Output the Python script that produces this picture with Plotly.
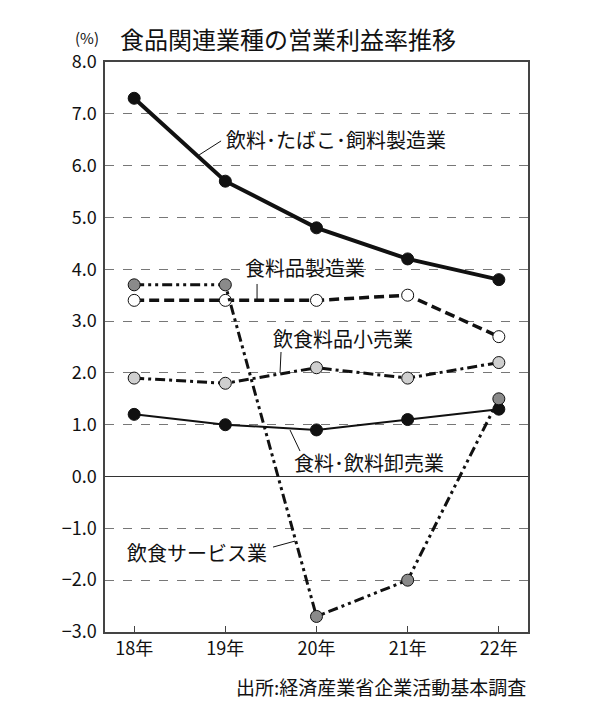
import plotly.graph_objects as go

years = ["18年", "19年", "20年", "21年", "22年"]
beverage_tobacco = [7.3, 5.7, 4.8, 4.2, 3.8]
food_mfg = [3.4, 3.4, 3.4, 3.5, 2.7]
food_retail = [1.9, 1.8, 2.1, 1.9, 2.2]
wholesale = [1.2, 1.0, 0.9, 1.1, 1.3]
food_service = [3.7, 3.7, -2.7, -2.0, 1.5]
y_ticks = [8, 7, 6, 5, 4, 3, 2, 1, 0, -1, -2, -3]
y_ticklabels = ["8.0", "7.0", "6.0", "5.0", "4.0", "3.0", "2.0", "1.0", "0.0", "−1.0", "−2.0", "−3.0"]

FONT = "Noto Sans CJK JP"
xi = list(range(len(years)))

fig = go.Figure()

def add(yv, width, dash, fill, msize=12):
    fig.add_trace(go.Scatter(
        x=xi, y=yv, mode="lines+markers",
        line=dict(color="#111111", width=width, dash=dash),
        marker=dict(size=msize, color=fill, line=dict(color="#111111", width=1)),
        showlegend=False, hoverinfo="skip"))

add(wholesale, 2, "solid", "#111111")
add(food_retail, 3, "10px,4px,3px,4px", "#cfcfcf")
add(food_mfg, 3.5, "10px,5px", "#ffffff")
add(beverage_tobacco, 4, "solid", "#111111")
add(food_service, 3, "10px,4px,3px,4px,3px,4px", "#8a8a8a")

def px2x(px):
    return (px - 134) / 91.25

def px2y(py):
    return (476.5 - py) / 51.8

labels = [
    ("飲料･たばこ･飼料製造業", 224, 140, (199, 155, 221, 141)),
    ("食料品製造業", 243, 268, (257, 284, 257, 300)),
    ("飲食料品小売業", 271, 338, (281, 352, 280, 373)),
    ("食料･飲料卸売業", 292, 462, (290, 430, 300, 451)),
    ("飲食サービス業", 125, 552, (273, 547, 295, 541)),
]
for text, lx, ly, (x0, y0, x1, y1) in labels:
    fig.add_annotation(x=px2x(lx), y=px2y(ly), xref="x", yref="y", text=text,
                       showarrow=False, xanchor="left", yanchor="middle",
                       font=dict(family=FONT, size=20, color="#111111"))
    fig.add_shape(type="line", xref="x", yref="y", x0=px2x(x0), y0=px2y(y0),
                  x1=px2x(x1), y1=px2y(y1), line=dict(color="#111111", width=1))

fig.add_annotation(x=(118 - 105) / 423, y=1 + 24 / 570, xref="paper", yref="paper",
                   text="食品関連業種の営業利益率推移", showarrow=False,
                   xanchor="left", yanchor="middle",
                   font=dict(family=FONT, size=24, color="#111111"))
fig.add_annotation(x=(87 - 105) / 423, y=1 + 25 / 570, xref="paper", yref="paper",
                   text="(%)", showarrow=False, xanchor="center", yanchor="middle",
                   font=dict(family=FONT, size=15, color="#111111"))
fig.add_annotation(x=1.0, y=-(686 - 632) / 570, xref="paper", yref="paper",
                   text="出所:経済産業省企業活動基本調査", showarrow=False,
                   xanchor="right", yanchor="middle",
                   font=dict(family=FONT, size=19, color="#111111"))

fig.update_layout(
    width=612, height=702,
    margin=dict(l=105, r=84, t=62, b=70),
    paper_bgcolor="white", plot_bgcolor="white",
    font=dict(family=FONT, color="#111111"),
    xaxis=dict(range=[-0.32, 4.32], tickvals=xi, ticktext=years,
               showgrid=False, ticks="inside", ticklen=6, tickcolor="#444444",
               showline=True, linecolor="#444444", linewidth=1.5, mirror=True,
               tickfont=dict(family=FONT, size=18), zeroline=False),
    yaxis=dict(range=[-3, 8], tickvals=y_ticks, ticktext=y_ticklabels,
               showgrid=True, gridcolor="#777777", griddash="dash", gridwidth=1,
               zeroline=True, zerolinecolor="#333333", zerolinewidth=1,
               showline=True, linecolor="#444444", linewidth=1.5, mirror=True,
               ticks="", ticklabelstandoff=3, tickfont=dict(family=FONT, size=18)),
)

fig.write_html("out.html")
